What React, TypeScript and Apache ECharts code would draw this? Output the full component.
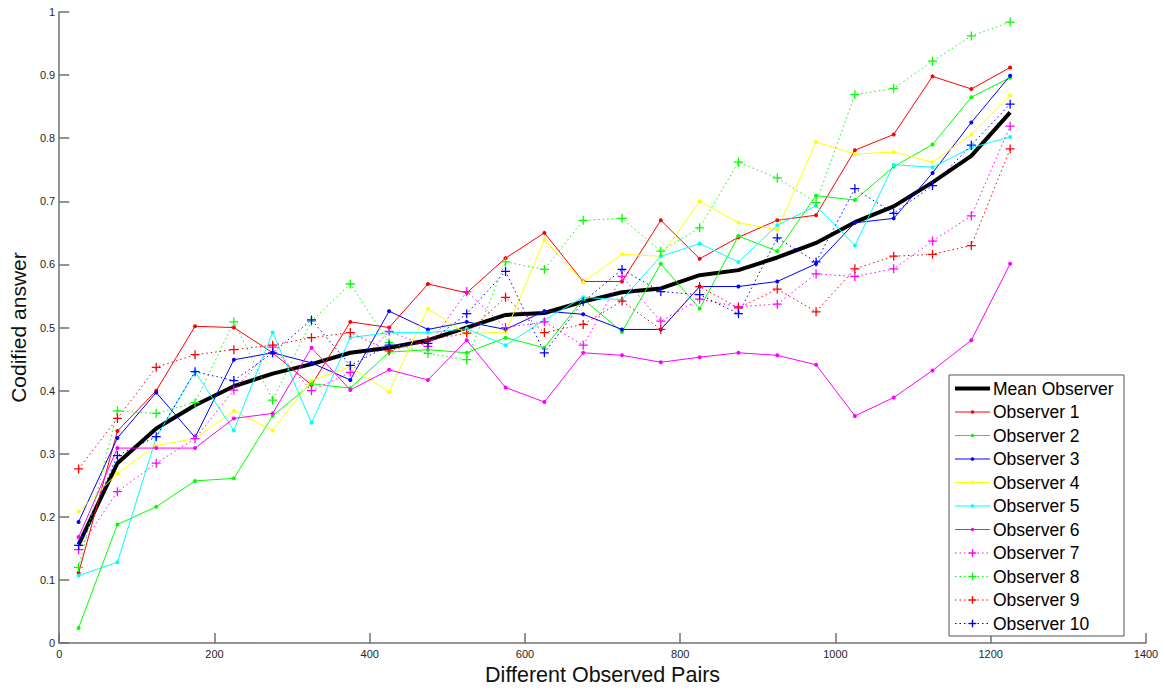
import React, { useEffect, useRef } from "react";
import * as echarts from "echarts";

const xValues = [25, 75, 125, 175, 225, 275, 325, 375, 425, 475, 525, 575, 625, 675, 725, 775, 825, 875, 925, 975, 1025, 1075, 1125, 1175, 1225];

const meanObserver = [0.156, 0.285, 0.34, 0.377, 0.407, 0.427, 0.442, 0.46, 0.468, 0.48, 0.5, 0.52, 0.523, 0.541, 0.556, 0.562, 0.583, 0.591, 0.611, 0.634, 0.667, 0.692, 0.73, 0.772, 0.841];
const observer1 = [0.111, 0.336, 0.4, 0.502, 0.5, 0.46, 0.409, 0.509, 0.5, 0.569, 0.555, 0.61, 0.65, 0.573, 0.573, 0.67, 0.609, 0.643, 0.67, 0.678, 0.781, 0.806, 0.898, 0.878, 0.912];
const observer2 = [0.024, 0.188, 0.216, 0.257, 0.261, 0.36, 0.411, 0.404, 0.461, 0.465, 0.46, 0.484, 0.468, 0.545, 0.493, 0.601, 0.53, 0.645, 0.621, 0.709, 0.702, 0.755, 0.79, 0.865, 0.896];
const observer3 = [0.192, 0.325, 0.397, 0.326, 0.449, 0.46, 0.444, 0.417, 0.526, 0.497, 0.509, 0.497, 0.526, 0.521, 0.497, 0.497, 0.565, 0.565, 0.573, 0.601, 0.666, 0.673, 0.745, 0.825, 0.899];
const observer4 = [0.208, 0.269, 0.313, 0.324, 0.368, 0.337, 0.416, 0.438, 0.398, 0.53, 0.49, 0.493, 0.639, 0.572, 0.616, 0.613, 0.7, 0.666, 0.655, 0.794, 0.775, 0.778, 0.762, 0.806, 0.868];
const observer5 = [0.107, 0.128, 0.326, 0.43, 0.337, 0.492, 0.349, 0.484, 0.492, 0.492, 0.498, 0.472, 0.512, 0.548, 0.544, 0.613, 0.633, 0.604, 0.662, 0.693, 0.63, 0.758, 0.754, 0.785, 0.802];
const observer6 = [0.168, 0.309, 0.309, 0.309, 0.356, 0.364, 0.468, 0.401, 0.433, 0.417, 0.48, 0.405, 0.382, 0.46, 0.456, 0.445, 0.453, 0.46, 0.456, 0.441, 0.36, 0.389, 0.432, 0.48, 0.601];
const observer7 = [0.148, 0.24, 0.285, 0.324, 0.401, 0.469, 0.4, 0.429, 0.494, 0.47, 0.557, 0.5, 0.509, 0.472, 0.581, 0.51, 0.545, 0.533, 0.537, 0.585, 0.581, 0.593, 0.637, 0.677, 0.819];
const observer8 = [0.12, 0.368, 0.364, 0.381, 0.509, 0.385, 0.51, 0.569, 0.476, 0.459, 0.449, 0.604, 0.592, 0.67, 0.673, 0.621, 0.658, 0.762, 0.737, 0.698, 0.869, 0.879, 0.922, 0.962, 0.984];
const observer9 = [0.276, 0.356, 0.437, 0.457, 0.465, 0.472, 0.484, 0.492, 0.463, 0.48, 0.491, 0.548, 0.492, 0.505, 0.542, 0.497, 0.565, 0.531, 0.561, 0.525, 0.593, 0.613, 0.616, 0.63, 0.783];
const observer10 = [0.155, 0.297, 0.327, 0.43, 0.416, 0.46, 0.512, 0.44, 0.472, 0.475, 0.522, 0.589, 0.46, 0.541, 0.592, 0.557, 0.552, 0.522, 0.642, 0.604, 0.72, 0.681, 0.725, 0.789, 0.854];

const seriesNames = ["Mean Observer", "Observer 1", "Observer 2", "Observer 3", "Observer 4", "Observer 5", "Observer 6", "Observer 7", "Observer 8", "Observer 9", "Observer 10"];
const seriesColors = ["#000000", "#ff0000", "#00ff00", "#0000ff", "#ffff00", "#00ffff", "#ff00ff", "#ff00ff", "#00ff00", "#ff0000", "#0000ff"];
const seriesValues = [meanObserver, observer1, observer2, observer3, observer4, observer5, observer6, observer7, observer8, observer9, observer10];

const xTicks = { min: 0, max: 1400, interval: 200 };
const yTicks = { min: 0, max: 1, interval: 0.1 };

const PLUS = "path://M4.3,0H5.7V4.3H10V5.7H5.7V10H4.3V5.7H0V4.3H4.3Z";
const FONT = "'Liberation Sans', Arial, Helvetica, sans-serif";

function buildLegend() {
  const left = 949;
  const top = 375;
  const width = 175;
  const height = 261;
  const firstY = 388.5;
  const step = 23.5;
  const lineX1 = 955;
  const lineX2 = 990;
  const midX = (lineX1 + lineX2) / 2;
  const children: any[] = [
    {
      type: "rect",
      shape: { x: left, y: top, width, height },
      style: { fill: "#ffffff", stroke: "#555555", lineWidth: 1 },
      z: 10,
    },
  ];
  seriesNames.forEach((name, i) => {
    const y = firstY + step * i;
    const color = seriesColors[i];
    const dotted = i >= 7;
    children.push({
      type: "line",
      shape: { x1: lineX1, y1: y, x2: lineX2, y2: y },
      style: { stroke: color, lineWidth: i === 0 ? 4 : 1, lineDash: dotted ? [1.5, 3] : null },
      z: 11,
    });
    if (i > 0 && !dotted) {
      children.push({
        type: "circle",
        shape: { cx: midX, cy: y, r: 1.8 },
        style: { fill: color },
        z: 12,
      });
    }
    if (dotted) {
      children.push({
        type: "line",
        shape: { x1: midX - 3.8, y1: y, x2: midX + 3.8, y2: y },
        style: { stroke: color, lineWidth: 1.4 },
        z: 12,
      });
      children.push({
        type: "line",
        shape: { x1: midX, y1: y - 3.8, x2: midX, y2: y + 3.8 },
        style: { stroke: color, lineWidth: 1.4 },
        z: 12,
      });
    }
    children.push({
      type: "text",
      x: 993,
      y,
      style: {
        text: name,
        fontSize: 17.5,
        fontFamily: FONT,
        fill: "#000000",
        verticalAlign: "middle",
        align: "left",
      },
      z: 12,
    });
  });
  return [{ type: "group", children }];
}

export default function App() {
  const ref = useRef<HTMLDivElement>(null);
  useEffect(() => {
    const chart = echarts.init(ref.current!, null, { renderer: "svg" });
    const series = seriesNames.map((name, i) => {
      const color = seriesColors[i];
      const data = xValues.map((x, j) => [x, seriesValues[i][j]]);
      if (i === 0) {
        return {
          name, type: "line", data, showSymbol: false, symbol: "none",
          lineStyle: { color, width: 4 }, itemStyle: { color }, z: 2,
        };
      }
      const dotted = i >= 7;
      return {
        name, type: "line", data,
        symbol: dotted ? PLUS : "circle",
        symbolSize: dotted ? 9 : 4,
        lineStyle: { color, width: 1, type: dotted ? [1.5, 3] : "solid" },
        itemStyle: { color, borderWidth: 0 },
        z: 3,
      };
    });
    chart.setOption({
      animation: false,
      backgroundColor: "#ffffff",
      textStyle: { fontFamily: FONT },
      grid: { left: 56, right: 19, top: 12, bottom: 41, containLabel: false },
      xAxis: {
        type: "value", min: xTicks.min, max: xTicks.max, interval: xTicks.interval,
        name: "Different Observed Pairs", nameLocation: "middle", nameGap: 16,
        nameTextStyle: { fontSize: 21.5, color: "#111", fontFamily: FONT },
        axisLine: { show: true, lineStyle: { color: "#707070", width: 1.5 } },
        axisTick: { show: true, inside: true, length: 10, lineStyle: { color: "#707070", width: 1.5 } },
        axisLabel: { fontSize: 11, color: "#262626", margin: 5, fontFamily: FONT, formatter: (v: number) => String(Math.round(v)) },
        splitLine: { show: false },
      },
      yAxis: {
        type: "value", min: yTicks.min, max: yTicks.max, interval: yTicks.interval,
        name: "Codified answer", nameLocation: "middle", nameGap: 27, nameRotate: 90,
        nameTextStyle: { fontSize: 21, color: "#111", fontFamily: FONT },
        axisLine: { show: true, lineStyle: { color: "#707070", width: 1.5 } },
        axisTick: { show: true, inside: true, length: 10, lineStyle: { color: "#707070", width: 1.5 } },
        axisLabel: { fontSize: 11, color: "#262626", margin: 4, fontFamily: FONT, formatter: (v: number) => String(Math.round(v * 10) / 10) },
        splitLine: { show: false },
      },
      graphic: buildLegend(),
      series,
    });
    return () => chart.dispose();
  }, []);
  return (
    <div
      ref={ref}
      style={{ position: "fixed", left: 0, top: 0, width: 1165, height: 691, background: "#fff" }}
    />
  );
}
